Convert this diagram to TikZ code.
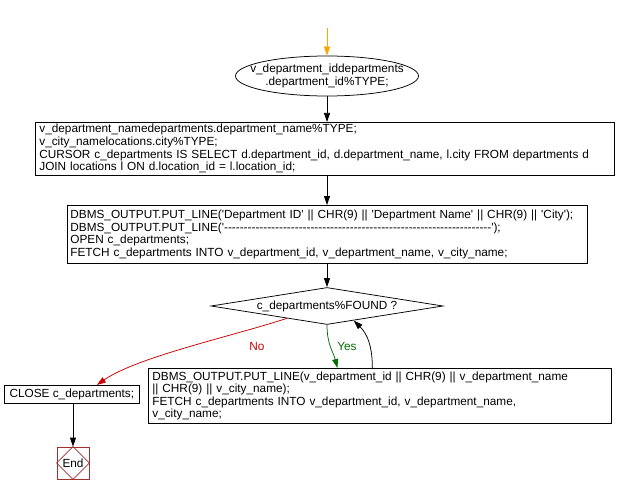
\documentclass[tikz,border=0pt]{standalone}
\usepackage{fontspec}
\setmainfont{Liberation Sans}[Ligatures=TeXOff]
\usetikzlibrary{arrows.meta,shapes.geometric,calc}

\definecolor{startorange}{RGB}{255,165,0}
\definecolor{nored}{RGB}{204,0,0}
\definecolor{yesgreen}{RGB}{0,110,0}
\definecolor{endred}{RGB}{160,48,48}

\begin{document}
\begin{tikzpicture}[x=1pt,y=-1pt,
			every node/.style={font=\fontsize{11.8}{12.6}\selectfont},
			flow/.style={line width=0.75pt,-{Triangle[length=9pt,width=6pt]}},
			stmt/.style={draw,line width=0.75pt,align=left,anchor=north west,inner xsep=4pt,inner ysep=2pt}]
			\useasboundingbox (0,0) rectangle (617,494);
			
			% start and declarations
			\coordinate (start) at (327,28);
			\node[draw,ellipse,line width=0.75pt,inner sep=0pt,minimum width=183pt,minimum height=40pt,
				label={[align=center]center:v\_department\_iddepartments\\.department\_id\%TYPE;}] (decl) at (327,76) {};
			\node[stmt,text width=571pt,minimum height=50pt] (init) at (35,122)
				{v\_department\_namedepartments.department\_name\%TYPE;\\
				 v\_city\_namelocations.city\%TYPE;\\
				 CURSOR c\_departments IS SELECT d.department\_id, d.department\_name, l.city FROM departments d\\
				 JOIN locations l ON d.location\_id = l.location\_id;};
			\node[stmt,inner xsep=3pt,text width=514pt,minimum height=58pt] (open) at (67,205)
				{DBMS\_OUTPUT.PUT\_LINE('Department ID' || CHR(9) || 'Department Name' || CHR(9) || 'City');\\
				 DBMS\_OUTPUT.PUT\_LINE('--------------------------------------------------------------------');\\
				 OPEN c\_departments;\\
				 FETCH c\_departments INTO v\_department\_id, v\_department\_name, v\_city\_name;};
			
			% loop
			\node[draw,diamond,aspect=6.27,line width=0.75pt,inner sep=0pt,minimum width=232pt,minimum height=37pt] (test) at (327,306)
				{c\_departments\%FOUND ?};
			\node[stmt,text width=455pt,minimum height=55pt] (loop) at (148,368)
				{DBMS\_OUTPUT.PUT\_LINE(v\_department\_id || CHR(9) || v\_department\_name\\
				 || CHR(9) || v\_city\_name);\\
				 FETCH c\_departments INTO v\_department\_id, v\_department\_name,\\
				 v\_city\_name;};
			\node[stmt,minimum width=135pt,minimum height=18pt,inner ysep=1pt] (close) at (4,385)
				{CLOSE c\_departments;};
			\node[draw=endred,line width=0.75pt,minimum size=32pt,inner sep=0pt] (end) at (73,463) {End};
			\draw[endred,line width=0.75pt] (end.north) -- (end.east) -- (end.south) -- (end.west) -- cycle;
			
			\coordinate (no) at ($(test.west)!0.655!(test.south)$);
			\coordinate (back) at ($(test.south)!0.23!(test.east)$);
			\node[text=nored] (nolab) at (257,346) {No};
			\node[text=yesgreen] (yeslab) at (347,346) {Yes};
			
			\draw[flow,startorange] (start) -- (decl.north);
			\draw[flow] (decl.south) -- (init.north -| decl.south);
			\draw[flow] (init.south -| decl.south) -- (open.north -| decl.south);
			\draw[flow] (open.south -| test.north) -- (test.north);
			\draw[flow,nored] (no) .. controls +(-55,18) and +(40,-28) .. ([xshift=25pt]close.north);
			\draw[flow,yesgreen] (test.south) .. controls +(0,20) and +(-4,-16) .. ([xshift=-42.5pt]loop.north);
			\draw[flow] ([xshift=-7.5pt]loop.north) .. controls +(0,-28) and +(10,10) .. (back);
			\draw[flow] (close.south -| end.north) -- (end.north);
		\end{tikzpicture}
\end{document}
